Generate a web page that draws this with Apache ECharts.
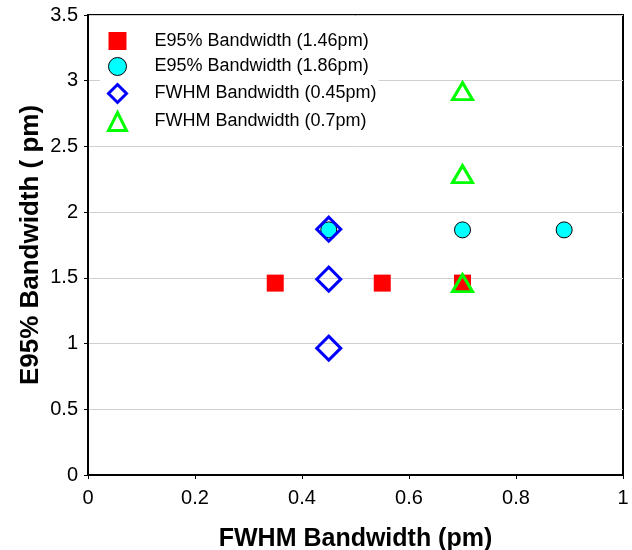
<!DOCTYPE html>
<html><head><meta charset="utf-8">
<script src="https://cdn.jsdelivr.net/npm/echarts@6/dist/echarts.min.js"></script>
<style>html,body{margin:0;padding:0;background:#fff}#c{width:632px;height:550px}</style>
</head><body><div id="c"></div>
<script>
const seriesNames = ['E95% Bandwidth (1.46pm)','E95% Bandwidth (1.86pm)','FWHM Bandwidth (0.45pm)','FWHM Bandwidth (0.7pm)'];
const redSquares = [[0.35,1.46],[0.55,1.46],[0.70,1.46]];
const cyanCircles = [[0.45,1.865],[0.70,1.865],[0.89,1.865]];
const blueDiamonds = [[0.45,0.965],[0.45,1.49],[0.45,1.87]];
const greenTriangles = [[0.70,1.46],[0.70,2.29],[0.70,2.92]];
const xTicks = [0,0.2,0.4,0.6,0.8,1];
const yTicks = [0,0.5,1,1.5,2,2.5,3,3.5];

const chart = echarts.init(document.getElementById('c'), null, {renderer:'canvas'});
const font = 'Liberation Sans, Arial, sans-serif';
chart.setOption({
  animation:false,
  backgroundColor:'#fff',
  grid:{left:88,right:9,top:15,bottom:75,containLabel:false,outerBoundsMode:'none',show:true,borderColor:'#000',borderWidth:2,backgroundColor:'transparent'},
  legend:{
    orient:'vertical', left:100, top:30, padding:[2,2,2,7],
    backgroundColor:'#fff', itemWidth:18, itemHeight:18, itemGap:7,
    textStyle:{fontFamily:font,fontSize:18,lineHeight:18,color:'#000',padding:[0,0,0,23]},
    data:[
      {name:seriesNames[0],itemStyle:{borderWidth:0}},
      {name:seriesNames[1],itemStyle:{borderWidth:1}},
      {name:seriesNames[2],itemStyle:{borderWidth:3}},
      {name:seriesNames[3],itemStyle:{borderWidth:3}}
    ]
  },
  xAxis:{
    type:'value', min:0, max:1, interval:0.2,
    name:'FWHM Bandwidth (pm)', nameLocation:'middle', nameGap:52,
    nameTextStyle:{fontFamily:font,fontSize:25,fontWeight:'bold',color:'#000'},
    axisLine:{show:true,lineStyle:{color:'#000',width:2}},
    axisTick:{show:true,length:4,lineStyle:{color:'#000'}},
    axisLabel:{fontFamily:font,fontSize:20,color:'#000',margin:13,formatter:v=>String(+v.toFixed(1))},
    splitLine:{show:false}
  },
  yAxis:{
    type:'value', min:0, max:3.5, interval:0.5,
    name:'E95% Bandwidth ( pm)', nameLocation:'middle', nameGap:44, nameMoveOverlap:false,
    nameTextStyle:{fontFamily:font,fontSize:26,fontWeight:'bold',color:'#000'},
    axisLine:{show:true,lineStyle:{color:'#000',width:2}},
    axisTick:{show:true,length:4,lineStyle:{color:'#000'}},
    axisLabel:{fontFamily:font,fontSize:20,color:'#000',margin:10,formatter:v=>String(+v.toFixed(1))},
    splitLine:{show:true,lineStyle:{color:'#d0d0d0',width:1}}
  },
  series:[
    {name:seriesNames[0],type:'scatter',data:redSquares,symbol:'rect',symbolSize:17,
     itemStyle:{color:'#ff0000',opacity:1},z:2},
    {name:seriesNames[1],type:'scatter',data:cyanCircles,symbol:'circle',symbolSize:16,
     itemStyle:{color:'#00ffff',borderColor:'#000',borderWidth:1,opacity:1},z:3},
    {name:seriesNames[2],type:'scatter',data:blueDiamonds,symbol:'diamond',symbolSize:[24,24],
     itemStyle:{color:'rgba(255,255,255,0)',borderColor:'#0000ff',borderWidth:3,opacity:1},z:4},
    {name:seriesNames[3],type:'scatter',data:greenTriangles,symbol:'triangle',symbolSize:[20,17],
     itemStyle:{color:'rgba(255,255,255,0)',borderColor:'#00ff00',borderWidth:3,opacity:1},z:5}
  ]
});
</script></body></html>
